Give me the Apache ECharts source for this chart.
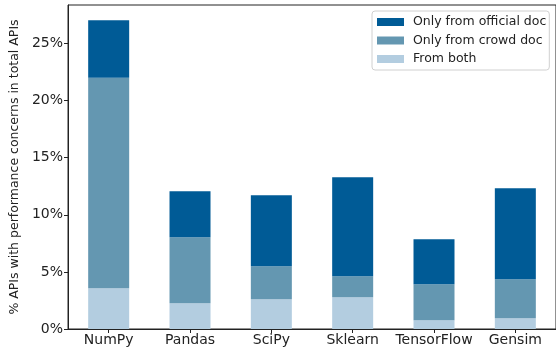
<!DOCTYPE html>
<html>
<head>
<meta charset="utf-8">
<script src="https://cdn.jsdelivr.net/npm/echarts@6/dist/echarts.min.js"></script>
<style>
  html, body {margin: 0; padding: 0; background: #fff;}
  #chart {width: 556px; height: 349px;}
</style>
</head>
<body>
<div id="chart"></div>
<script>
// libraries on the x axis
const libs = ['NumPy', 'Pandas', 'SciPy', 'Sklearn', 'TensorFlow', 'Gensim'];
// stacked segments, % of total APIs
const fromBoth = [3.56, 2.25, 2.6, 2.77, 0.76, 0.94];
const onlyCrowd = [18.44, 5.78, 2.89, 1.84, 3.15, 3.41];
const onlyOfficial = [5.03, 4.03, 6.21, 8.67, 3.94, 7.97];
const yTicks = [0, 5, 10, 15, 20, 25];

const font = 'DejaVu Sans';
const chart = echarts.init(document.getElementById('chart'));

const bar = (name, values, color) => ({
  name: name,
  type: 'bar',
  stack: 'total',
  barWidth: 41,
  itemStyle: {color: color},
  data: values
});

chart.setOption({
  animation: false,
  textStyle: {fontFamily: font},
  grid: {
    left: 62, top: 5, right: -3, bottom: 20,
    show: true, borderColor: '#222', borderWidth: 1
  },
  legend: {
    data: ['Only from official doc', 'Only from crowd doc', 'From both'],
    orient: 'vertical',
    left: 372, top: 11,
    padding: [4, 3, 4, 5],
    itemWidth: 27, itemHeight: 8, itemGap: 4.5,
    icon: 'rect',
    borderColor: '#d0d0d0', borderWidth: 1, borderRadius: 3,
    backgroundColor: '#fff',
    textStyle: {fontFamily: font, fontSize: 12.5, color: '#222', lineHeight: 14, padding: [0, 0, 0, 4]}
  },
  xAxis: {
    type: 'category',
    data: libs,
    axisLine: {show: true, lineStyle: {color: '#222'}},
    axisTick: {show: true, length: 4, alignWithLabel: true, lineStyle: {color: '#222'}},
    axisLabel: {interval: 0, fontSize: 14, color: '#222', margin: 4}
  },
  yAxis: {
    type: 'value',
    min: 0, max: 28.36,
    name: '% APIs with performance concerns in total APIs',
    nameLocation: 'middle',
    nameGap: 39,
    nameTextStyle: {fontFamily: font, fontSize: 12.5, color: '#222'},
    splitLine: {show: false},
    axisLine: {show: true, lineStyle: {color: '#222'}},
    axisTick: {show: true, length: 4, customValues: yTicks, lineStyle: {color: '#222'}},
    axisLabel: {
      customValues: yTicks,
      formatter: '{value}%',
      fontSize: 14, color: '#222', margin: 5
    }
  },
  series: [
    bar('From both', fromBoth, '#b3cde0'),
    bar('Only from crowd doc', onlyCrowd, '#6497b1'),
    bar('Only from official doc', onlyOfficial, '#005b96')
  ]
});
</script>
</body>
</html>
